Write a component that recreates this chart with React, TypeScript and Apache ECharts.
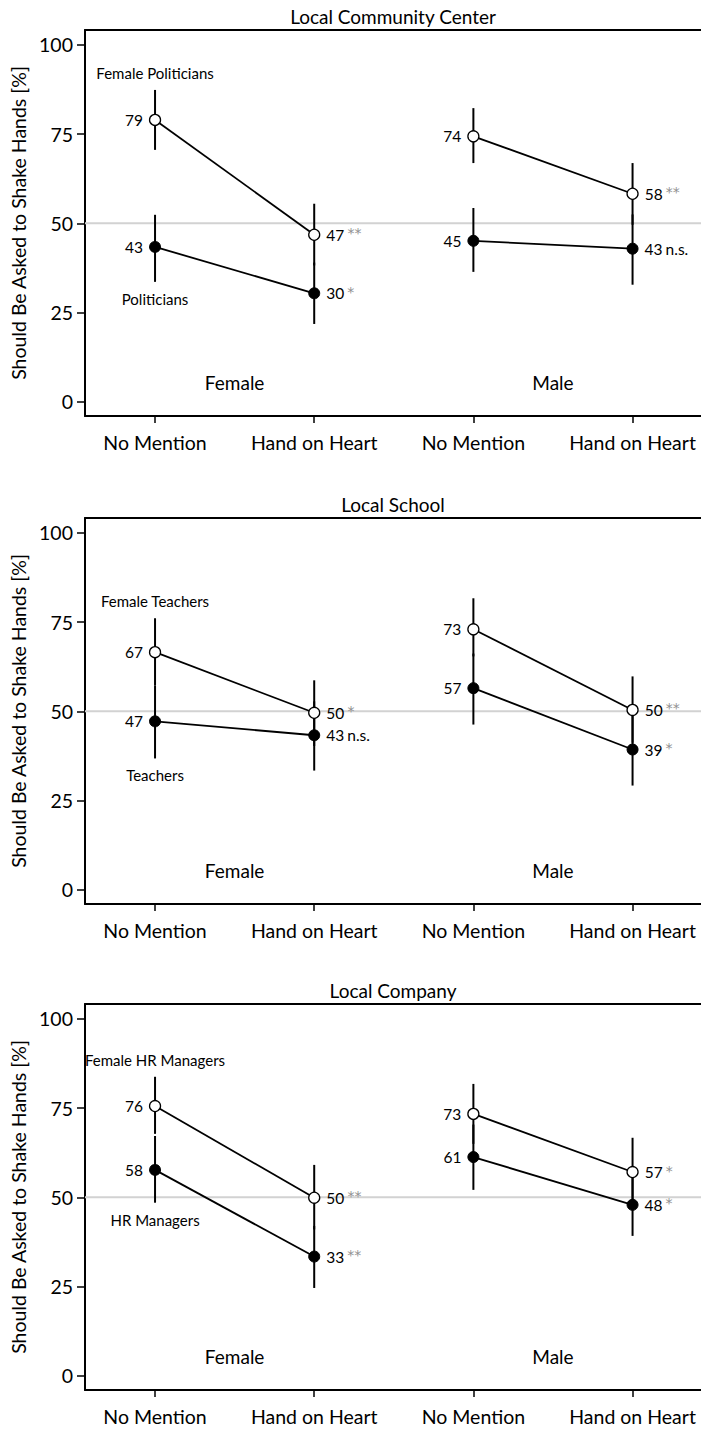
import React, { useEffect, useRef } from "react";
import * as echarts from "echarts";

// ---- data ----
const panelTitles = ["Local Community Center", "Local School", "Local Company"];
const conditions = ["No Mention", "Hand on Heart", "No Mention", "Hand on Heart"];
const genders = ["Female", "Male"];
const femaleGroupNames = ["Female Politicians", "Female Teachers", "Female HR Managers"];
const groupNames = ["Politicians", "Teachers", "HR Managers"];
const yTicks = [0, 25, 50, 75, 100];
const xPositions = [1, 2, 3, 4];

// order inside each panel: Female/NoMention, Female/HandOnHeart, Male/NoMention, Male/HandOnHeart
const femaleGroupValues = [
  [79.0, 46.8, 74.4, 58.3],
  [66.6, 49.6, 73.0, 50.4],
  [75.6, 49.9, 73.4, 57.1],
];
const femaleGroupLow = [
  [70.6, 38.2, 66.9, 49.6],
  [57.3, 40.3, 65.4, 41.2],
  [67.8, 41.0, 65.0, 48.0],
];
const femaleGroupHigh = [
  [87.4, 55.5, 82.3, 66.9],
  [76.1, 58.7, 81.7, 59.8],
  [83.8, 59.1, 81.8, 66.7],
];
const femaleGroupSig = [
  ["", "**", "", "**"],
  ["", "*", "", "**"],
  ["", "**", "", "*"],
];

const groupValues = [
  [43.4, 30.4, 45.1, 42.9],
  [47.2, 43.3, 56.5, 39.3],
  [57.7, 33.4, 61.3, 47.9],
];
const groupLow = [
  [33.6, 21.8, 36.4, 32.8],
  [36.8, 33.4, 46.3, 29.2],
  [48.5, 24.6, 52.1, 39.2],
];
const groupHigh = [
  [52.4, 39.0, 54.3, 52.5],
  [57.3, 52.8, 66.2, 49.0],
  [67.2, 42.0, 70.4, 56.6],
];
const groupSig = [
  ["", "*", "", "n.s."],
  ["", "n.s.", "", "*"],
  ["", "**", "", "*"],
];

// annotation anchors (data coordinates)
const femaleGroupLabelY = [92.2, 80.9, 88.5];
const groupLabelY = [28.9, 32.3, 43.7];
const genderLabelX = [1.5, 3.5];
const genderLabelY = 5.3;
const refLineValue = 50;

// ---- layout ----
const X_MIN = 0.56;
const X_MAX = 4.43;
const Y_MIN = -4;
const Y_MAX = 104.2;
const GRID_TOPS = [30, 518, 1004];
const GRID_H = 386;
const FONT = "Lato, 'Open Sans', sans-serif";
const STAR_FONT = "'DejaVu Sans', sans-serif";

function buildOption() {
  const grid: any[] = [];
  const xAxis: any[] = [];
  const yAxis: any[] = [];
  const series: any[] = [];

  for (let p = 0; p < 3; p++) {
    grid.push({ left: 85, right: 0, top: GRID_TOPS[p], height: GRID_H, containLabel: false });
    xAxis.push({
      type: "value",
      gridIndex: p,
      min: X_MIN,
      max: X_MAX,
      position: "bottom",
      axisLine: { show: true, onZero: false, lineStyle: { color: "#000", width: 2 } },
      axisTick: { show: true, length: 7, lineStyle: { color: "#000", width: 1.5 }, customValues: xPositions },
      axisLabel: {
        show: true,
        customValues: xPositions,
        formatter: (v: number) => conditions[Math.round(v) - 1] ?? "",
        color: "#000",
        fontSize: 19.5,
        fontFamily: FONT,
        margin: 16,
      },
      splitLine: { show: false },
    });
    xAxis.push({
      type: "value",
      gridIndex: p,
      min: X_MIN,
      max: X_MAX,
      position: "top",
      name: panelTitles[p],
      nameLocation: "middle",
      nameGap: 4,
      nameTextStyle: { color: "#000", fontSize: 19, fontWeight: "normal", fontFamily: FONT },
      axisLine: { show: true, onZero: false, lineStyle: { color: "#000", width: 2 } },
      axisTick: { show: false },
      axisLabel: { show: false },
      splitLine: { show: false },
    });
    yAxis.push({
      type: "value",
      gridIndex: p,
      min: Y_MIN,
      max: Y_MAX,
      name: "Should Be Asked to Shake Hands [%]",
      nameLocation: "middle",
      nameGap: 52,
      nameTextStyle: { color: "#000", fontSize: 19.5, fontWeight: "normal", fontFamily: FONT },
      axisLine: { show: true, onZero: false, lineStyle: { color: "#000", width: 2 } },
      axisTick: { show: true, length: 8, lineStyle: { color: "#000", width: 1.5 }, customValues: yTicks },
      axisLabel: {
        show: true,
        customValues: yTicks,
        color: "#000",
        fontSize: 19.5,
        fontFamily: FONT,
        margin: 12,
      },
      splitLine: { show: false },
    });

    const xi = p * 2;
    // reference line at 50
    series.push({
      type: "line",
      xAxisIndex: xi,
      yAxisIndex: p,
      data: [[X_MIN, refLineValue], [X_MAX, refLineValue]],
      symbol: "none",
      silent: true,
      z: 1,
      lineStyle: { color: "#d2d2d2", width: 2 },
    });

    // CIs
    const ciData: number[][] = [];
    for (let i = 0; i < 4; i++) {
      ciData.push([xPositions[i], femaleGroupLow[p][i], femaleGroupHigh[p][i]]);
      ciData.push([xPositions[i], groupLow[p][i], groupHigh[p][i]]);
    }
    series.push({
      type: "custom",
      xAxisIndex: xi,
      yAxisIndex: p,
      z: 2,
      silent: true,
      encode: { x: 0, y: [1, 2] },
      data: ciData,
      renderItem: (params: any, api: any) => {
        const x = api.value(0);
        const a = api.coord([x, api.value(1)]);
        const b = api.coord([x, api.value(2)]);
        return {
          type: "line",
          shape: { x1: a[0], y1: a[1], x2: b[0], y2: b[1] },
          style: { stroke: "#000", lineWidth: 2 },
        };
      },
    });

    const makePoint = (i: number, v: number, sig: string) => {
      const isLeft = i % 2 === 0;
      const num = String(Math.round(v));
      let fmt = `{v|${num}}`;
      if (sig) fmt += sig === "n.s." ? ` {n|${sig}}` : ` {s|${sig}}`;
      return {
        value: [xPositions[i], v],
        label: {
          show: true,
          position: isLeft ? "left" : "right",
          distance: 6,
          formatter: fmt,
        },
      };
    };

    const labelRich = {
      v: { color: "#000", fontSize: 15.5, fontFamily: FONT },
      s: { color: "#909090", fontSize: 14, fontFamily: STAR_FONT, padding: [0, 0, 3, 0] },
      n: { color: "#000", fontSize: 15.5, fontFamily: FONT },
    };

    for (let g = 0; g < 2; g++) {
      const idx = [g * 2, g * 2 + 1];
      series.push({
        type: "line",
        xAxisIndex: xi,
        yAxisIndex: p,
        z: 3,
        data: idx.map((i) => makePoint(i, femaleGroupValues[p][i], femaleGroupSig[p][i])),
        symbol: "circle",
        symbolSize: 11,
        lineStyle: { color: "#000", width: 1.8 },
        itemStyle: { color: "#fff", borderColor: "#000", borderWidth: 1.3 },
        label: { rich: labelRich },
      });
      series.push({
        type: "line",
        xAxisIndex: xi,
        yAxisIndex: p,
        z: 3,
        data: idx.map((i) => makePoint(i, groupValues[p][i], groupSig[p][i])),
        symbol: "circle",
        symbolSize: 11,
        lineStyle: { color: "#000", width: 1.8 },
        itemStyle: { color: "#000", borderColor: "#000", borderWidth: 1 },
        label: { rich: labelRich },
      });
    }

    // text annotations
    const annot = [
      { value: [xPositions[0], femaleGroupLabelY[p]], name: femaleGroupNames[p], size: 15 },
      { value: [xPositions[0], groupLabelY[p]], name: groupNames[p], size: 15 },
      { value: [genderLabelX[0], genderLabelY], name: genders[0], size: 19 },
      { value: [genderLabelX[1], genderLabelY], name: genders[1], size: 19 },
    ];
    series.push({
      type: "scatter",
      xAxisIndex: xi,
      yAxisIndex: p,
      z: 4,
      silent: true,
      symbolSize: 0,
      itemStyle: { opacity: 1 },
      data: annot.map((a) => ({
        value: a.value,
        name: a.name,
        label: {
          show: true,
          position: "inside",
          formatter: a.name,
          color: "#000",
          opacity: 1,
          textBorderWidth: 0,
          fontSize: a.size,
          fontFamily: FONT,
        },
      })),
    });
  }

  return {
    animation: false,
    backgroundColor: "#fff",
    textStyle: { fontFamily: FONT },
    grid,
    xAxis,
    yAxis,
    series,
  };
}

export default function App() {
  const ref = useRef<HTMLDivElement>(null);
  useEffect(() => {
    if (!ref.current) return;
    const chart = echarts.init(ref.current, undefined, { renderer: "svg" });
    chart.setOption(buildOption() as any);
    return () => chart.dispose();
  }, []);
  return (
    <div
      ref={ref}
      style={{ position: "absolute", left: 0, top: 0, width: 701, height: 1429, background: "#fff" }}
    />
  );
}
